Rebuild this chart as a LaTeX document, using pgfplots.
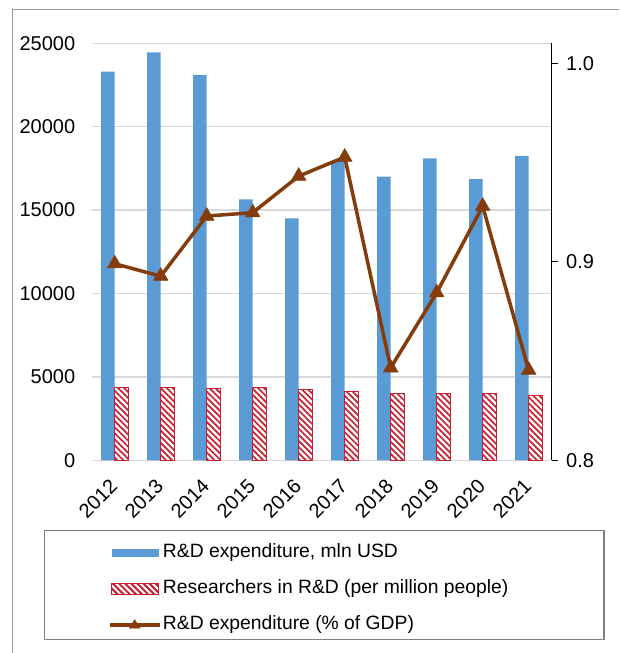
\documentclass[border=0pt]{standalone}
\usepackage{pgfplots}
\pgfplotsset{compat=1.18}
\usepackage{fontspec}
\setmainfont{Liberation Sans}
\usetikzlibrary{patterns.meta}
\definecolor{barblue}{HTML}{5B9BD5}
\definecolor{barred}{HTML}{C8202F}
\definecolor{linebrown}{HTML}{843C0C}
\definecolor{gridgray}{HTML}{D9D9D9}
\begin{document}
\begin{tikzpicture}[x=1pt,y=1pt]
\useasboundingbox (0,0) rectangle (619,653);
\draw[black!40, line width=1.2pt] (12.3,0) -- (12.3,643.3) -- (619,643.3);
\draw[black!50, line width=1.2pt] (44.3,13.7) rectangle (604,122.3);
\begin{axis}[
  at={(91.7pt,192.7pt)}, anchor=south west,
  scale only axis, width=460pt, height=417pt,
  xmin=-0.5, xmax=9.5, ymin=0, ymax=25000,
  xtick={0,...,9},
  xticklabels={2012,2013,2014,2015,2016,2017,2018,2019,2020,2021},
  ytick={0,5000,10000,15000,20000,25000},
  scaled y ticks=false,
  /pgf/number format/1000 sep={},
  /pgf/number format/assume math mode=true,
  tick label style={font=\fontsize{20}{24}\selectfont},
  xticklabel style={xshift=1.5pt, yshift=-16pt, rotate=45, anchor=east},
  yticklabel style={xshift=-13pt},
  axis lines*=left,
  axis line style={-},
  y axis line style={draw=none},
  x axis line style={draw=gridgray, line width=1.3pt},
  tick style={draw=none},
  ymajorgrids,
  grid style={draw=gridgray, line width=1.3pt},
  ybar, bar width=13.5pt,
  legend style={draw=none, fill=none,
    at={(axis description cs:0.0354,-0.20)}, anchor=north west,
    inner sep=0pt, outer sep=0pt, row sep=17pt, column sep=1.5pt,
    font=\fontsize{19.3}{23}\selectfont,
    nodes={inner sep=0pt, text height=14pt, text depth=5pt}},
  legend cell align=left,
]
\addplot[fill=barblue, draw=none, bar shift=-6.75pt,
  legend image code/.code={\fill[barblue] (2pt,-3.9pt) rectangle (49pt,3.9pt);}]
  coordinates {(0,23300) (1,24450) (2,23100) (3,15650) (4,14500) (5,17950) (6,17000) (7,18100) (8,16850) (9,18250)};
\addlegendentry{R\&D expenditure, mln USD}
\addplot[fill=white, draw=barred, line width=1pt, bar shift=6.75pt,
  postaction={pattern={Lines[angle=-45,distance=4.3pt,line width=1.7pt]}, pattern color=barred},
  legend image code/.code={\draw[fill=white, draw=barred, line width=1pt, postaction={pattern={Lines[angle=-45,distance=4.3pt,line width=1.7pt]}, pattern color=barred}] (2pt,-5.5pt) rectangle (49pt,5.5pt);}]
  coordinates {(0,4375) (1,4375) (2,4315) (3,4355) (4,4215) (5,4135) (6,4015) (7,3995) (8,3975) (9,3895)};
\addlegendentry{Researchers in R\&D (per million people)}
\addlegendimage{legend image code/.code={\draw[linebrown, line width=3.5pt] (0pt,0pt) -- (50pt,0pt); \fill[linebrown] (19.5pt,-3pt) -- (30.5pt,-3pt) -- (25pt,5.5pt) -- cycle;}}
\addlegendentry{R\&D expenditure (\% of GDP)}
\end{axis}
\begin{axis}[
  at={(91.7pt,192.7pt)}, anchor=south west,
  scale only axis, width=460pt, height=417pt,
  xmin=-0.5, xmax=9.5, ymin=0.8, ymax=1.01,
  ytick={0.8,0.9,1.0},
  /pgf/number format/.cd, fixed, fixed zerofill, precision=1, assume math mode=true,
  /pgfplots/.cd,
  tick label style={font=\fontsize{20}{24}\selectfont},
  yticklabel style={xshift=5pt},
  axis x line=none,
  axis y line*=right,
  y axis line style={draw=black, line width=1.3pt, -},
  ytick style={draw=black, line width=1.3pt},
  tick align=outside, major tick length=6pt,
]
\addplot[linebrown, line width=3.5pt, mark=triangle*, mark size=8.5pt,
  mark options={fill=linebrown, draw=linebrown, line width=0.5pt}]
  coordinates {(0,0.899) (1,0.8927) (2,0.923) (3,0.9247) (4,0.9431) (5,0.9527) (6,0.8466) (7,0.8844) (8,0.928) (9,0.8454)};
\end{axis}
\end{tikzpicture}
\end{document}
